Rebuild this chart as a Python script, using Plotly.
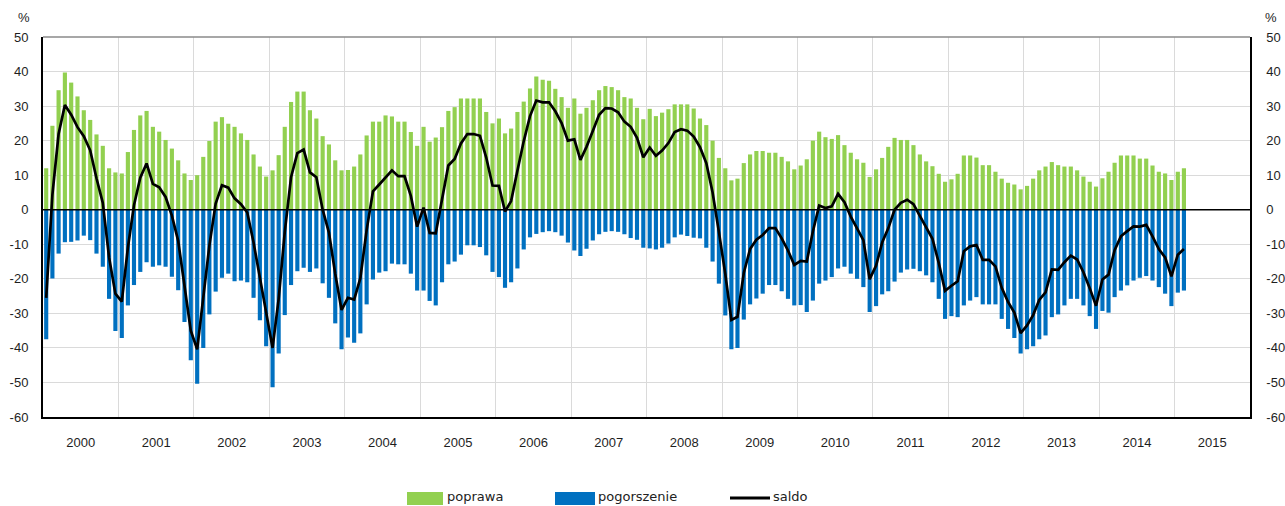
import pandas as pd
import plotly.graph_objects as go

# ---- data (monthly, Jan 2000 - Feb 2015), % of answers ----
start_month = "2000-01-01"

poprawa = [
    12.0, 24.3, 34.6, 39.7, 36.8, 32.8, 28.8, 26.0, 21.8, 18.5, 12.0, 10.8,   # 2000
    10.5, 16.7, 23.1, 27.3, 28.6, 24.0, 22.6, 20.2, 17.7, 14.3, 10.5, 8.6,    # 2001
    10.0, 15.3, 19.9, 25.5, 26.8, 24.9, 24.0, 22.1, 20.2, 16.0, 12.5, 9.6,    # 2002
    11.4, 15.8, 24.0, 31.2, 34.2, 34.2, 28.8, 26.4, 21.3, 18.9, 14.3, 11.4,   # 2003
    11.5, 12.5, 16.0, 21.5, 25.5, 25.5, 27.3, 27.0, 25.5, 25.5, 22.5, 18.5,   # 2004
    24.0, 19.7, 20.9, 23.9, 28.6, 29.7, 32.2, 32.2, 32.2, 32.2, 28.3, 25.0,   # 2005
    26.4, 22.1, 23.5, 28.3, 31.3, 35.1, 38.6, 37.6, 37.3, 35.0, 32.6, 29.5,   # 2006
    32.2, 27.8, 29.5, 31.7, 34.6, 35.8, 35.5, 34.6, 32.6, 32.2, 29.5, 26.2,   # 2007
    29.2, 27.1, 28.1, 29.1, 30.5, 30.5, 30.5, 29.3, 26.4, 24.5, 20.0, 15.0,   # 2008
    12.0, 8.5, 9.0, 13.5, 16.0, 17.0, 17.0, 16.5, 16.5, 15.3, 14.0, 11.7,     # 2009
    12.8, 14.6, 20.0, 22.6, 21.0, 20.5, 21.6, 18.7, 16.5, 14.6, 13.6, 9.5,    # 2010
    11.7, 15.0, 18.2, 20.8, 20.2, 20.2, 18.7, 16.0, 14.0, 12.6, 10.4, 8.1,    # 2011
    8.8, 10.4, 15.7, 15.7, 15.1, 12.9, 12.9, 11.0, 9.0, 7.8, 7.3, 5.9,        # 2012
    6.9, 9.0, 11.4, 12.5, 13.8, 12.9, 12.5, 12.5, 11.4, 9.6, 8.1, 6.7,        # 2013
    9.1, 11.0, 13.6, 15.7, 15.7, 15.7, 14.8, 14.8, 12.8, 11.0, 10.5, 8.6,     # 2014
    11.0, 12.0,                                                               # 2015
]

pogorszenie = [
    -37.5, -19.9, -12.7, -9.4, -9.3, -8.9, -7.5, -8.8, -12.7, -16.5, -25.8, -35.1,
    -37.1, -27.7, -21.8, -18.0, -15.2, -16.5, -16.1, -16.5, -19.4, -23.3, -32.5, -43.6,
    -50.4, -40.0, -30.3, -23.7, -19.7, -18.5, -20.7, -20.5, -21.0, -25.5, -32.0, -39.5,
    -51.4, -41.6, -30.5, -21.8, -17.8, -16.8, -18.0, -17.0, -21.3, -25.5, -32.9, -40.4,
    -37.0, -38.5, -35.8, -27.4, -20.2, -18.2, -17.8, -15.6, -15.8, -15.8, -18.5, -23.4,
    -23.4, -26.4, -27.7, -21.0, -15.8, -15.0, -13.0, -10.3, -10.3, -10.8, -13.2, -18.0,
    -19.5, -22.6, -21.0, -17.0, -11.5, -8.0, -7.0, -6.5, -6.2, -6.5, -7.5, -9.5,
    -11.8, -13.4, -11.3, -8.9, -7.1, -6.4, -6.2, -6.4, -7.1, -8.2, -8.7, -11.0,
    -11.2, -11.5, -11.0, -9.8, -8.0, -7.2, -7.6, -8.1, -8.3, -11.0, -15.0, -21.4,
    -30.6, -40.4, -40.0, -31.8, -27.4, -25.7, -24.3, -21.8, -21.8, -23.6, -25.8, -27.7,
    -27.6, -29.6, -26.3, -21.4, -20.5, -19.5, -17.0, -16.5, -18.5, -20.0, -22.4, -29.6,
    -27.9, -24.5, -23.6, -20.8, -18.2, -17.3, -17.1, -17.8, -19.0, -21.0, -25.8, -31.6,
    -30.8, -31.1, -27.7, -26.3, -25.3, -27.4, -27.4, -27.4, -31.6, -34.5, -37.1, -41.6,
    -40.4, -39.5, -37.5, -36.4, -31.1, -30.3, -27.7, -25.8, -25.8, -27.7, -30.8, -34.5,
    -29.3, -29.8, -25.3, -23.4, -21.9, -20.5, -19.7, -19.2, -20.5, -22.4, -24.3, -27.9,
    -24.0, -23.4,
]

saldo = [
    -25.5, 4.4, 21.9, 30.3, 27.5, 23.9, 21.3, 17.2, 9.1, 2.0, -13.8, -24.3,
    -26.6, -11.0, 1.3, 9.3, 13.4, 7.5, 6.5, 3.7, -1.7, -9.0, -22.0, -35.0,
    -40.4, -24.7, -10.4, 1.8, 7.1, 6.4, 3.3, 1.6, -0.8, -9.5, -19.5, -29.9,
    -40.0, -25.8, -6.5, 9.4, 16.4, 17.4, 10.8, 9.4, 0.0, -6.6, -18.6, -29.0,
    -25.5, -26.0, -19.8, -5.9, 5.3, 7.3, 9.5, 11.4, 9.7, 9.7, 4.0, -4.9,
    0.6, -6.7, -6.8, 2.9, 12.8, 14.7, 19.2, 21.9, 21.9, 21.4, 15.1, 7.0,
    6.9, -0.5, 2.5, 11.3, 19.8, 27.1, 31.6, 31.1, 31.1, 28.5, 25.1, 20.0,
    20.4, 14.4, 18.2, 22.8, 27.5, 29.4, 29.3, 28.2, 25.5, 24.0, 20.8, 15.2,
    18.0, 15.6, 17.1, 19.3, 22.5, 23.3, 22.9, 21.2, 18.1, 13.5, 5.0, -6.4,
    -18.6, -31.9, -31.0, -18.3, -11.4, -8.7, -7.3, -5.3, -5.3, -8.3, -11.8, -16.0,
    -14.8, -15.0, -6.3, 1.2, 0.5, 1.0, 4.6, 2.2, -2.0, -5.4, -8.8, -20.1,
    -16.2, -9.5, -5.4, 0.0, 2.0, 2.9, 1.6, -1.8, -5.0, -8.4, -15.4, -23.5,
    -22.0, -20.7, -12.0, -10.6, -10.2, -14.5, -14.5, -16.4, -22.6, -26.7, -29.8, -35.7,
    -33.5, -30.5, -26.1, -23.9, -17.3, -17.4, -15.2, -13.3, -14.4, -18.1, -22.7, -27.8,
    -20.2, -18.8, -11.7, -7.7, -6.2, -4.8, -4.9, -4.4, -7.7, -11.4, -13.8, -19.3,
    -13.0, -11.4,
]

y_ticks = [-60, -50, -40, -30, -20, -10, 0, 10, 20, 30, 40, 50]
y_tick_text = [str(v) for v in y_ticks]
legend_names = ["poprawa", "pogorszenie", "saldo"]

months = pd.date_range(start_month, periods=len(poprawa), freq="MS")

GREEN = "#92D050"
BLUE = "#0070C0"
GRID = "#dadada"
TXT = "#1e1e1e"
TICKFONT = dict(family="Liberation Sans, Arial, sans-serif", size=13, color=TXT)

W, H = 1285, 506
L, R, T, B = 43, 35, 37, 89
PW, PH = W - L - R, H - T - B


def px_x(px):
    return (px - L) / PW


def px_y(py):
    return (H - B - py) / PH


fig = go.Figure()
fig.add_trace(go.Bar(
    x=months, y=poprawa, name=legend_names[0], marker_color=GREEN,
    marker_line_width=0, xperiod="M1", xperiodalignment="middle",
))
fig.add_trace(go.Bar(
    x=months, y=pogorszenie, name=legend_names[1], marker_color=BLUE,
    marker_line_width=0, xperiod="M1", xperiodalignment="middle",
))
fig.add_trace(go.Scatter(
    x=months, y=saldo, name=legend_names[2], mode="lines",
    line=dict(color="black", width=2.7), xperiod="M1",
    xperiodalignment="middle", yaxis="y2",
))

fig.update_layout(
    width=W, height=H,
    margin=dict(l=L, r=R, t=T, b=B, pad=0, autoexpand=False),
    paper_bgcolor="white", plot_bgcolor="white",
    barmode="relative", bargap=0.32,
    showlegend=False,
    xaxis=dict(
        type="date", range=["2000-01-01", "2016-01-01"],
        tick0="2000-01-01", dtick="M12", tickformat="%Y",
        ticklabelmode="period", showgrid=True, gridcolor=GRID, gridwidth=1,
        showline=True, linecolor="black", linewidth=2, ticks="",
        tickfont=TICKFONT, ticklabelstandoff=12, fixedrange=True,
        automargin=False,
    ),
    yaxis=dict(
        range=[-60, 50], tickvals=y_ticks, ticktext=y_tick_text,
        showgrid=True, gridcolor=GRID, gridwidth=1, zeroline=False,
        showline=True, linecolor="black", linewidth=2, ticks="",
        tickfont=TICKFONT, ticklabelstandoff=10, automargin=False,
    ),
    yaxis2=dict(
        range=[-60, 50], tickvals=y_ticks, ticktext=y_tick_text,
        overlaying="y", side="right", showgrid=False, zeroline=False,
        showline=True, linecolor="black", linewidth=1.5, ticks="",
        tickfont=TICKFONT, ticklabelstandoff=12, automargin=False,
    ),
)

shapes = [
    # zero line
    dict(type="line", xref="paper", yref="y", x0=0, x1=1, y0=0, y1=0,
         line=dict(color="black", width=1.5), layer="above"),
    # top border
    dict(type="line", xref="paper", yref="paper", x0=0, x1=1, y0=1, y1=1,
         line=dict(color="#8a8a8a", width=1.5), layer="above"),
    # legend keys
    dict(type="rect", xref="paper", yref="paper",
         x0=px_x(407), x1=px_x(443), y0=px_y(505), y1=px_y(492),
         fillcolor=GREEN, line=dict(width=0)),
    dict(type="rect", xref="paper", yref="paper",
         x0=px_x(555), x1=px_x(595), y0=px_y(505), y1=px_y(492),
         fillcolor=BLUE, line=dict(width=0)),
    dict(type="line", xref="paper", yref="paper",
         x0=px_x(730), x1=px_x(770), y0=px_y(498), y1=px_y(498),
         line=dict(color="black", width=3)),
]

LEGFONT = dict(family="DejaVu Sans, Verdana, sans-serif", size=13, color="#222")
legend_text_x = [446, 597, 772]
annotations = [
    dict(text="%", xref="paper", yref="paper", x=px_x(24), y=px_y(18),
         xanchor="center", yanchor="middle", showarrow=False, font=TICKFONT),
    dict(text="%", xref="paper", yref="paper", x=px_x(1263), y=px_y(18),
         xanchor="left", yanchor="middle", showarrow=False, font=TICKFONT),
]
for name, tx in zip(legend_names, legend_text_x):
    annotations.append(dict(
        text=name, xref="paper", yref="paper", x=px_x(tx), y=px_y(505),
        xanchor="left", yanchor="bottom", showarrow=False, font=LEGFONT,
        borderpad=0,
    ))
fig.update_layout(shapes=shapes, annotations=annotations)

fig.write_html(
    "out.html",
    config={"displayModeBar": False},
    post_script="document.body.style.margin='0px';document.body.style.overflow='hidden';",
)
